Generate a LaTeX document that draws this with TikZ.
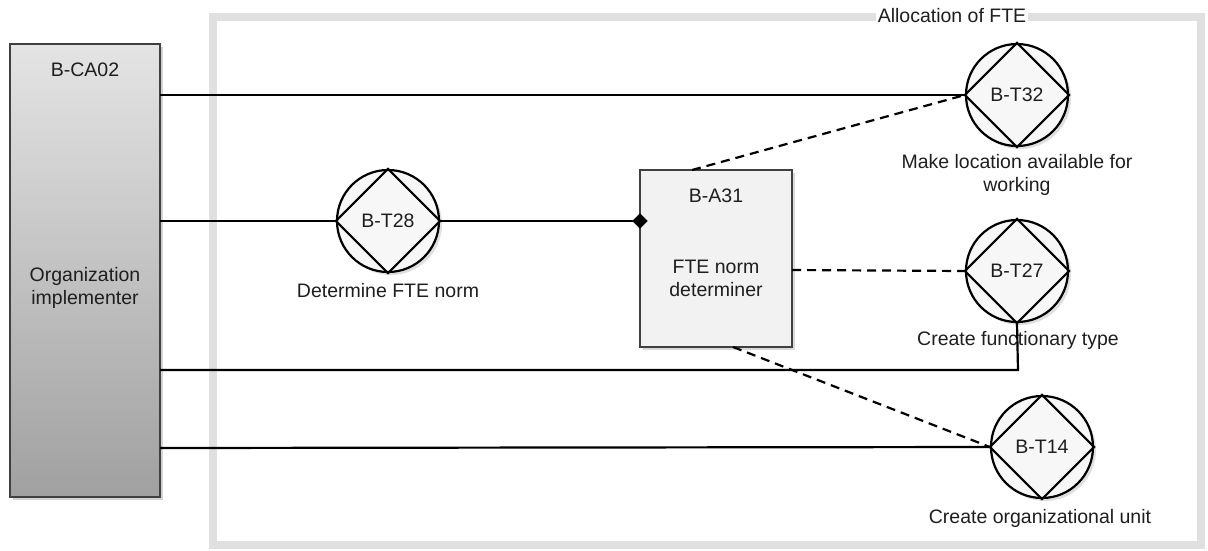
\documentclass[tikz,border=0pt]{standalone}
\usepackage{fontspec}
\setmainfont{Liberation Sans}
\usetikzlibrary{shapes.geometric,shadows,calc}
\definecolor{framegray}{RGB}{224,224,224}
\definecolor{boxtop}{RGB}{228,228,228}
\definecolor{boxbot}{RGB}{160,160,160}
\definecolor{txt}{RGB}{30,30,30}
\tikzset{
  actor/.style={draw=black!75, line width=1.6pt, top color=boxtop, bottom color=boxbot,
    drop shadow={shadow xshift=3pt, shadow yshift=-3pt, opacity=0.35}},
  actbox/.style={draw=black!75, line width=1.6pt, fill=white!95!black,
    drop shadow={shadow xshift=3pt, shadow yshift=-3pt, opacity=0.3}},
  trans/.style={circle, draw=black, line width=2.2pt, minimum size=102pt, inner sep=0pt,
    fill=white!97!black, drop shadow={shadow xshift=3pt, shadow yshift=-3pt, opacity=0.25}},
  lab/.style={font=\fontsize{19.5}{23}\selectfont, text=txt, align=center},
  conn/.style={line width=2.2pt, draw=black},
  dconn/.style={line width=2.2pt, draw=black, dash pattern=on 9pt off 6pt},
}
\begin{document}
\begin{tikzpicture}[x=1pt,y=-1pt]
\useasboundingbox (0,0) rectangle (1208,550);
% frame
\draw[line width=8pt, framegray] (213,17) rectangle (1201,545);
\node[lab, fill=white, inner sep=2pt] (title) at (952,16) {Allocation of FTE};

% actor B-CA02
\node[actor, minimum width=150pt, minimum height=453pt, inner sep=0pt] (ca) at (85,270.5) {};
\node[lab] (catitle) at (85,70) {B-CA02};
\node[lab] (caname) at (85,288) {Organization\\implementer};

% actor B-A31
\node[actbox, minimum width=152pt, minimum height=177pt, inner sep=0pt] (a31) at (716,258.5) {};
\node[lab] (a31title) at (716,196) {B-A31};
\node[lab] (a31name) at (716,278) {FTE norm\\determiner};

% transactions
\foreach \n/\x/\y/\t in {t32/1017/95/B-T32, t27/1017/271/B-T27, t14/1042/447/B-T14, t28/388/221/B-T28}{
  \node[trans] (\n) at (\x,\y) {};
  \draw[line width=2.2pt, line join=miter] (\n.north) -- (\n.east) -- (\n.south) -- (\n.west) -- cycle;
  \node[lab] (\n lbl) at (\x,\y) {\t};
}

% transaction labels
\node[lab] (t32name) at (1017,175) {Make location available for\\working};
\node[lab] (t27name) at (1018,340) {Create functionary type};
\node[lab] (t14name) at (1040,518) {Create organizational unit};
\node[lab] (t28name) at (388,291) {Determine FTE norm};

% solid connectors
\coordinate (c1) at (160,95);
\coordinate (c2) at (160,221);
\coordinate (c3) at (160,370);
\coordinate (c4) at (160,448);
\coordinate (k3) at (1018,370);
\draw[conn] (c1) -- (t32.west);
\draw[conn] (c2) -- (t28.west);
\draw[conn] (c3) -- (k3) -- (t27.south);
\draw[conn] (c4) -- (t14.west);
\coordinate (a31in) at (640,221);
\draw[conn] (t28.east) -- (a31in);
\node[diamond, fill=black, draw=black, minimum size=15pt, inner sep=0pt] (dmd) at (a31in) {};

% dashed connectors
\coordinate (a31top) at (692,170);
\coordinate (a31right) at (792,270);
\coordinate (a31bot) at (733,347);
\draw[dconn] (a31top) -- (t32.west);
\draw[dconn] (a31right) -- (t27.west);
\draw[dconn] (a31bot) -- (t14.west);
\end{tikzpicture}
\end{document}
